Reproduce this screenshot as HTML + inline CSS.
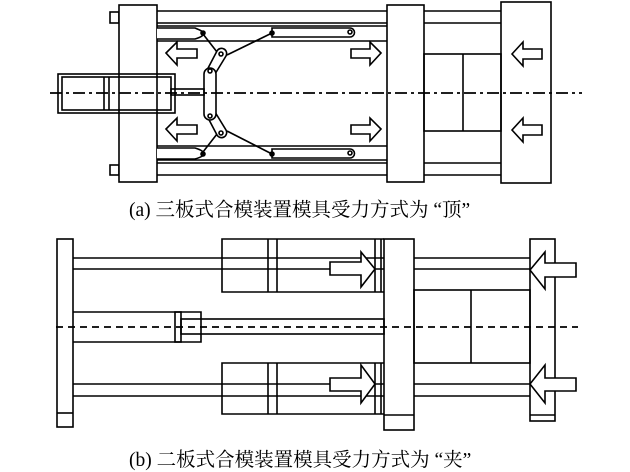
<!DOCTYPE html>
<html><head><meta charset="utf-8"><style>
html,body{margin:0;padding:0;background:#fff;}
svg{display:block;}
text{font-family:"Liberation Serif","Noto Serif CJK SC",serif;font-size:19.5px;fill:#000;}
</style></head><body>
<svg width="630" height="472" viewBox="0 0 630 472" xmlns="http://www.w3.org/2000/svg">
<g fill="none" stroke="#000" stroke-width="1.6">
<!-- (a) -->
<rect x="110" y="12" width="9" height="11"/>
<rect x="110" y="165" width="9" height="10"/>
<rect x="119" y="5" width="38" height="177" fill="#fff"/>
<line x1="157" y1="11" x2="387" y2="11"/><line x1="157" y1="23" x2="387" y2="23"/>
<line x1="157" y1="26" x2="387" y2="26"/>
<line x1="157" y1="41" x2="387" y2="41"/>
<line x1="157" y1="163" x2="387" y2="163"/><line x1="157" y1="175" x2="387" y2="175"/>
<line x1="157" y1="160" x2="387" y2="160"/>
<line x1="157" y1="146" x2="387" y2="146"/>
<line x1="424" y1="11" x2="501" y2="11"/><line x1="424" y1="23" x2="501" y2="23"/>
<line x1="424" y1="163" x2="501" y2="163"/><line x1="424" y1="175" x2="501" y2="175"/>
<rect x="387" y="5" width="37" height="177" fill="#fff"/>
<rect x="501" y="2" width="50" height="181" fill="#fff"/>
<rect x="424" y="54" width="77" height="77"/>
<line x1="463" y1="54" x2="463" y2="131"/>
<path d="M157 28 H195 Q205 32 203 33 Q205 36 195 39 H157" fill="#fff"/>
<path d="M157 148 H195 Q205 151 203 154 Q205 156 195 159 H157" fill="#fff"/>
<path d="M272 28 H350 A4.5 4.5 0 0 1 350 37 H272 Z" fill="#fff"/>
<path d="M272 149 H350 A4.5 4.5 0 0 1 350 158 H272 Z" fill="#fff"/>
<line x1="203" y1="34" x2="217" y2="52"/><line x1="272" y1="33" x2="227" y2="55"/>
<line x1="203" y1="152" x2="217" y2="134"/><line x1="272" y1="154" x2="227" y2="131"/>
<path d="M206 72 L217 51 A5 5 0 0 1 226 56 L215 74 Z" fill="#fff"/>
<path d="M206 114 L217 135 A5 5 0 0 0 226 130 L215 112 Z" fill="#fff"/>
<rect x="204" y="68" width="12" height="52" rx="6" fill="#fff"/>
<g fill="#fff">
<circle cx="221" cy="54" r="2"/><circle cx="210" cy="71" r="2"/><circle cx="210" cy="116" r="2"/><circle cx="221" cy="133" r="2"/>
<circle cx="350" cy="32" r="2"/><circle cx="350" cy="153" r="2"/>
</g>
<circle cx="203" cy="33" r="2" fill="#000"/><circle cx="272" cy="33" r="2" fill="#000"/>
<circle cx="203" cy="154" r="2" fill="#000"/><circle cx="272" cy="154" r="2" fill="#000"/>
<rect x="58" y="74" width="117" height="39"/>
<rect x="62" y="77" width="109" height="33"/>
<line x1="104" y1="77" x2="104" y2="110"/><line x1="109" y1="77" x2="109" y2="110"/>
<rect x="171" y="89" width="33" height="6"/>
<path d="M166 53 L177 42 V49 H197 V58 H177 V65 Z"/>
<path d="M166 129 L177 118 V125 H197 V134 H177 V141 Z"/>
<path d="M381 53 L370 42 V49 H351 V58 H370 V65 Z"/>
<path d="M381 129 L370 118 V125 H351 V134 H370 V141 Z"/>
<path d="M512 54 L523 42 V49 H542 V59 H523 V66 Z"/>
<path d="M512 130 L523 118 V125 H542 V135 H523 V142 Z"/>
<line x1="50" y1="93" x2="582" y2="93" stroke-width="1.8" stroke-dasharray="12 4 3 4"/>

<!-- (b) -->
<rect x="57" y="239" width="16" height="188"/>
<line x1="57" y1="413" x2="73" y2="413"/>
<line x1="73" y1="258" x2="384" y2="258"/><line x1="73" y1="269" x2="384" y2="269"/>
<line x1="73" y1="384" x2="384" y2="384"/><line x1="73" y1="396" x2="384" y2="396"/>
<line x1="414" y1="258" x2="530" y2="258"/><line x1="414" y1="269" x2="530" y2="269"/>
<line x1="414" y1="384" x2="530" y2="384"/><line x1="414" y1="396" x2="530" y2="396"/>
<path d="M384 239 H222 V292 H384"/>
<path d="M384 363 H222 V414 H384"/>
<line x1="268" y1="239" x2="268" y2="292"/><line x1="277" y1="239" x2="277" y2="292"/>
<line x1="268" y1="363" x2="268" y2="414"/><line x1="277" y1="363" x2="277" y2="414"/>
<line x1="375" y1="239" x2="375" y2="292"/><line x1="381" y1="239" x2="381" y2="292"/>
<line x1="375" y1="363" x2="375" y2="414"/><line x1="381" y1="363" x2="381" y2="414"/>
<rect x="384" y="239" width="30" height="191" fill="#fff"/>
<line x1="384" y1="415" x2="414" y2="415"/>
<rect x="530" y="239" width="25" height="182"/>
<line x1="530" y1="415" x2="555" y2="415"/>
<rect x="414" y="290" width="116" height="73"/>
<line x1="471" y1="290" x2="471" y2="363"/>
<path d="M73 312 H201 V342 H73"/>
<rect x="175" y="312" width="6" height="30"/>
<rect x="181" y="319" width="203" height="15"/>
<g fill="#fff">
<path d="M375 269 L361 252 V262 H330 V275 H361 V287 Z"/>
<path d="M375 384 L361 365 V378 H330 V391 H361 V403 Z"/>
<path d="M530 270 L545 252 V263 H576 V277 H545 V289 Z"/>
<path d="M530 384 L545 365 V378 H576 V391 H545 V403 Z"/>
</g>
<line x1="56" y1="327" x2="578" y2="327" stroke-width="1.8" stroke-dasharray="7 5"/>
</g>
<text x="129" y="216">(a) 三板式合模装置模具受力方式为 “顶”</text>
<text x="129" y="466">(b) 二板式合模装置模具受力方式为 “夹”</text>
</svg>
</body></html>
